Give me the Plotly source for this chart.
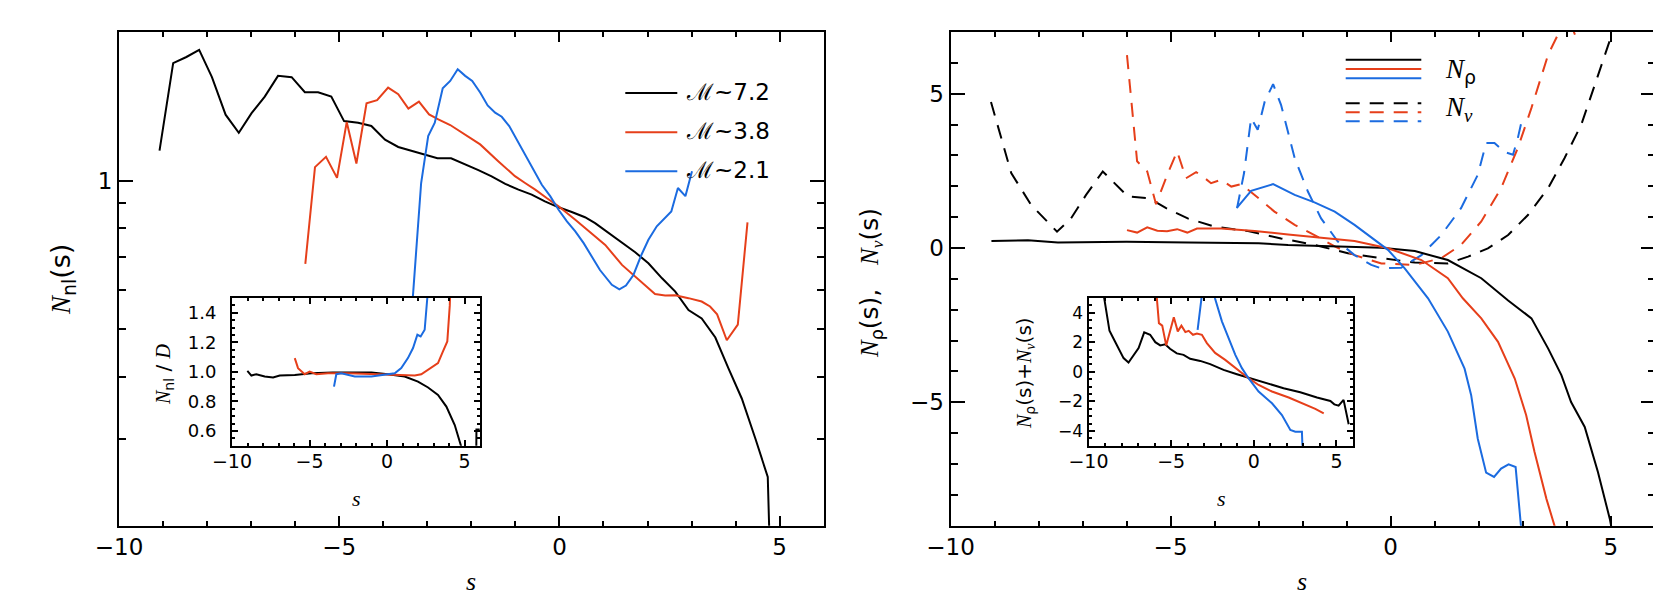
import math
import plotly.graph_objects as go

W, H = 1661, 593

# ---------------- left panel: N_nl(s) ----------------
s_nl_72 = [-9.08, -8.77, -8.47, -8.18, -7.89, -7.58, -7.28, -6.99, -6.69, -6.39, -6.08, -5.78, -5.48,
           -5.18, -4.89, -4.57, -4.27, -3.96, -3.66, -3.36, -3.05, -2.77, -2.46, -2.14, -1.84, -1.54,
           -1.23, -0.93, -0.63, -0.33, -0.02, 0.28, 0.58, 0.81, 1.11, 1.42, 1.72, 2.02, 2.33, 2.63,
           2.93, 3.23, 3.54, 3.84, 4.14, 4.45, 4.73, 4.80]
nl_72 = [1.15, 1.73, 1.78, 1.84, 1.62, 1.36, 1.25, 1.37, 1.48, 1.63, 1.62, 1.51, 1.51,
         1.48, 1.32, 1.31, 1.29, 1.21, 1.17, 1.15, 1.13, 1.11, 1.11, 1.08, 1.05, 1.02,
         0.985, 0.959, 0.937, 0.908, 0.883, 0.864, 0.843, 0.820, 0.783, 0.747, 0.716, 0.680, 0.634, 0.596,
         0.547, 0.526, 0.481, 0.416, 0.362, 0.300, 0.251, 0.15]

s_nl_38 = [-5.77, -5.55, -5.30, -5.05, -4.83, -4.61, -4.38, -4.14, -3.89, -3.66, -3.43, -3.19, -2.96,
           -2.75, -2.48, -2.14, -1.80, -1.39, -1.01, -0.78, -0.55, -0.29, -0.02, 0.36, 0.73, 1.04,
           1.42, 1.80, 2.17, 2.40, 2.63, 2.93, 3.23, 3.42, 3.58, 3.80, 4.05, 4.27]
nl_38 = [0.678, 1.065, 1.117, 1.013, 1.314, 1.083, 1.434, 1.455, 1.543, 1.496, 1.399, 1.445, 1.362,
         1.330, 1.296, 1.237, 1.184, 1.095, 1.021, 0.989, 0.959, 0.922, 0.887, 0.833, 0.783, 0.741,
         0.675, 0.629, 0.589, 0.585, 0.586, 0.578, 0.569, 0.556, 0.536, 0.475, 0.511, 0.823]

s_nl_21 = [-3.40, -3.33, -3.14, -2.98, -2.83, -2.65, -2.48, -2.31, -2.14, -1.98, -1.80, -1.63, -1.46,
           -1.31, -1.14, -0.97, -0.78, -0.59, -0.40, -0.21, -0.02, 0.17, 0.36, 0.55, 0.73, 0.92,
           1.19, 1.36, 1.51, 1.68, 1.86, 2.02, 2.21, 2.39, 2.54, 2.69, 2.86, 3.01]
nl_21 = [0.40, 0.578, 0.989, 1.231, 1.310, 1.538, 1.592, 1.681, 1.630, 1.592, 1.508, 1.420, 1.373,
         1.347, 1.290, 1.211, 1.129, 1.053, 0.981, 0.930, 0.873, 0.827, 0.789, 0.747, 0.702, 0.659,
         0.615, 0.602, 0.613, 0.644, 0.707, 0.759, 0.808, 0.840, 0.866, 0.966, 0.930, 1.045]

# inset: N_nl / D
s_r_72 = [-9.01, -8.75, -8.43, -7.89, -7.35, -6.92, -5.95, -4.88, -3.5, -2.0, -1.0, 0.06, 1.14, 2.0,
          2.65, 3.29, 3.83, 4.37, 4.80, 5.2, 5.76, 5.77, 5.98]
r_72 = [1.006, 0.975, 0.984, 0.968, 0.962, 0.975, 0.979, 0.991, 0.995, 0.997, 0.995, 0.984, 0.968, 0.934,
        0.894, 0.844, 0.765, 0.640, 0.504, 0.35, 0.45, 0.61, 0.61]
s_r_38 = [-5.95, -5.74, -5.31, -4.99, -4.56, -3.81, -2.5, -1.0, 0.5, 1.79, 2.21, 2.65, 3.29, 3.61,
          3.89, 4.05, 4.15]
r_38 = [1.093, 1.025, 0.984, 1.002, 0.984, 0.991, 0.99, 0.985, 0.982, 0.975, 0.984, 1.013, 1.059, 1.138,
        1.206, 1.45, 1.8]
s_r_21 = [-3.42, -3.27, -2.95, -2.08, -1.01, -0.15, 0.50, 0.92, 1.35, 1.68, 1.96, 2.17, 2.43, 2.60, 2.70]
r_21 = [0.900, 0.984, 0.991, 0.968, 0.968, 0.979, 0.991, 1.025, 1.093, 1.161, 1.251, 1.24, 1.285, 1.5, 1.7]

# ---------------- right panel: N_rho(s), N_nu(s) ----------------
s_rho_72 = [-9.07, -8.24, -7.56, -6.0, -4.6, -3.0, -2.33, -1.2, -0.21, 0.55, 1.30, 2.06, 2.67, 3.20,
            3.58, 3.88, 4.10, 4.41, 4.71, 4.98, 5.05]
rho_72 = [0.23, 0.25, 0.18, 0.20, 0.18, 0.15, 0.10, 0.05, 0.01, -0.10, -0.39, -0.98, -1.70, -2.28,
          -3.26, -4.12, -4.99, -5.80, -7.26, -8.78, -9.3]
s_rho_38 = [-5.99, -5.76, -5.53, -5.30, -5.08, -4.85, -4.62, -4.40, -3.85, -3.09, -2.33, -1.58, -0.82,
            -0.06, 0.70, 1.30, 1.64, 2.06, 2.44, 2.82, 3.08, 3.27, 3.54, 3.73, 3.78]
rho_38 = [0.58, 0.50, 0.67, 0.56, 0.54, 0.61, 0.50, 0.63, 0.63, 0.55, 0.44, 0.34, 0.23,
          -0.01, -0.39, -0.98, -1.63, -2.28, -3.04, -4.23, -5.42, -6.61, -8.13, -9.03, -9.3]
s_rho_21 = [-3.49, -3.17, -2.67, -2.18, -1.73, -1.27, -0.82, -0.36, -0.06, 0.32, 0.85, 1.30, 1.68,
            1.83, 1.98, 2.17, 2.35, 2.51, 2.68, 2.84, 2.95, 2.98]
rho_21 = [1.31, 1.85, 2.07, 1.72, 1.48, 1.18, 0.75, 0.26, -0.06, -0.66, -1.63, -2.71, -3.91,
          -4.77, -6.18, -7.28, -7.42, -7.15, -7.01, -7.10, -9.03, -9.3]

s_nu_72 = [-9.08, -8.62, -8.17, -7.58, -7.26, -6.92, -6.54, -6.27, -5.97, -5.48, -5.10, -4.61, -4.00,
           -3.24, -2.49, -1.73, -0.97, -0.21, 0.55, 1.30, 1.76, 2.21, 2.67, 3.12, 3.58, 3.95, 4.33,
           4.64, 5.00, 5.05]
nu_72 = [4.73, 2.43, 1.40, 0.53, 0.96, 1.72, 2.48, 2.10, 1.67, 1.61, 1.29, 0.96, 0.69,
         0.55, 0.31, 0.10, -0.17, -0.33, -0.47, -0.50, -0.28, -0.01, 0.42, 1.07, 1.94, 2.91, 3.99,
         5.29, 6.81, 7.2]
s_nu_38 = [-5.99, -5.76, -5.53, -5.38, -5.33, -5.25, -5.06, -4.85, -4.65, -4.42, -4.27, -4.08, -3.85,
           -3.62, -3.40, -3.09, -2.64, -2.18, -1.73, -1.27, -0.82, -0.21, 0.55, 1.15, 1.60, 2.06,
           2.51, 2.89, 3.20, 3.58, 3.84, 4.0, 4.26]
nu_38 = [6.25, 2.81, 2.48, 1.67, 1.42, 1.72, 2.43, 3.13, 2.26, 2.46, 2.32, 2.10, 2.21,
         1.99, 2.07, 1.72, 1.18, 0.75, 0.42, 0.05, -0.23, -0.50, -0.55, -0.33, 0.10, 0.86,
         1.94, 3.24, 4.54, 6.27, 7.03, 7.6, 6.65]
s_nu_21 = [-3.49, -3.33, -3.17, -3.02, -2.86, -2.67, -2.49, -2.18, -1.88, -1.58, -1.20, -0.82, -0.44,
           -0.21, 0.24, 0.70, 1.15, 1.60, 1.98, 2.17, 2.36, 2.59, 2.78, 2.89, 3.01]
nu_21 = [1.29, 2.43, 4.21, 3.83, 4.75, 5.31, 4.64, 2.91, 1.83, 0.96, 0.21, -0.23, -0.55,
         -0.66, -0.64, -0.23, 0.42, 1.29, 2.37, 3.40, 3.40, 3.11, 3.02, 3.56, 4.32]

# inset: N_rho + N_nu
s_sum_72 = [-9.08, -8.73, -8.49, -7.88, -7.58, -6.97, -6.63, -6.27, -5.96, -5.66, -5.36, -5.07, -4.66,
            -4.25, -3.85, -3.24, -2.64, -1.83, -1.02, -0.21, 0.59, 1.80, 2.81, 3.82, 4.63, 4.87, 5.13,
            5.43, 5.74]
sum_72 = [5.2, 2.78, 2.26, 0.93, 0.63, 1.61, 2.67, 2.51, 2.01, 1.79, 1.86, 1.56, 1.25,
          1.15, 0.88, 0.74, 0.52, 0.13, -0.16, -0.43, -0.70, -1.11, -1.38, -1.74, -1.97, -2.20, -2.29,
          -1.90, -3.55]
s_sum_38 = [-6.0, -5.74, -5.54, -5.30, -4.84, -4.60, -4.38, -4.14, -3.94, -3.68, -3.44, -3.14, -2.84,
            -2.34, -1.73, -1.12, -0.32, 0.29, 1.10, 2.11, 3.32, 3.72, 4.23]
sum_38 = [6.8, 3.30, 3.13, 1.79, 3.69, 2.74, 3.13, 2.69, 2.78, 2.51, 2.60, 2.51, 1.95,
          1.28, 0.81, 0.25, -0.43, -0.89, -1.33, -1.74, -2.29, -2.51, -2.81]
s_sum_21 = [-3.40, -3.0, -2.67, -2.34, -1.93, -1.53, -1.12, -0.72, -0.32, 0.29, 1.10, 1.70, 2.21,
            2.51, 2.91, 2.95]
sum_21 = [2.85, 6.5, 7.4, 4.95, 3.42, 2.28, 1.15, 0.25, -0.43, -1.33, -2.13, -2.92, -3.94,
          -4.05, -4.05, -5.3]

mach_values = ["7.2", "3.8", "2.1"]

RED = "#e63f1a"
BLUE = "#1b6be0"
COLORS = ["black", RED, BLUE]
FONT = "DejaVu Sans"
SERIF = "Liberation Serif"
DASH = "14px,10px"


def fx(p):
    return p / W


def fy(p):
    return 1 - p / H


fig = go.Figure()


def add(x, y, color, xa, ya, dash=None):
    fig.add_trace(go.Scatter(x=x, y=y, mode="lines", xaxis=xa, yaxis=ya,
                             line=dict(color=color, width=2, dash=dash),
                             showlegend=False, hoverinfo="skip"))


# main panels
for xs, ys, c in zip([s_nl_72, s_nl_38, s_nl_21], [nl_72, nl_38, nl_21], COLORS):
    add(xs, ys, c, "x", "y")
for xs, ys, c in zip([s_nu_72, s_nu_38, s_nu_21], [nu_72, nu_38, nu_21], COLORS):
    add(xs, ys, c, "x2", "y2", DASH)
for xs, ys, c in zip([s_rho_72, s_rho_38, s_rho_21], [rho_72, rho_38, rho_21], COLORS):
    add(xs, ys, c, "x2", "y2")
# insets
for xs, ys, c in zip([s_r_72, s_r_38, s_r_21], [r_72, r_38, r_21], COLORS):
    add(xs, ys, c, "x3", "y3")
for xs, ys, c in zip([s_sum_72, s_sum_38, s_sum_21], [sum_72, sum_38, sum_21], COLORS):
    add(xs, ys, c, "x4", "y4")


def axis(domain, anchor, rng, ticklen, minorlen, size, standoff, minor_dtick=None, **kw):
    minor = dict(ticks="inside", ticklen=minorlen, tickwidth=1.5, tickcolor="black", showgrid=False)
    if minor_dtick is not None:
        minor["dtick"] = minor_dtick
    if "minor_vals" in kw:
        minor["tickmode"] = "array"
        minor["tickvals"] = kw.pop("minor_vals")
    d = dict(domain=domain, anchor=anchor, range=rng, showline=True, linecolor="black",
             linewidth=2, mirror="ticks", ticks="inside", ticklen=ticklen, tickwidth=2,
             tickcolor="black", showgrid=False, zeroline=False, automargin=False,
             tickfont=dict(family=FONT, size=size, color="black"),
             ticklabelstandoff=standoff, minor=minor)
    d.update(kw)
    return d


main_y = [fy(517.7), fy(24)]
inset_y = [fy(437.7), fy(290)]

fig.update_layout(
    template="none",
    width=W, height=H,
    margin=dict(l=0, r=0, t=0, b=0, pad=0),
    paper_bgcolor="white", plot_bgcolor="white",
    font=dict(family=FONT, color="black"),
    xaxis=axis([fx(111), fx(815.7)], "y", [-10, 6], 10, 5, 23, 0, 1, dtick=5, tick0=0),
    yaxis=axis(main_y, "x", [math.log10(0.2), math.log10(2.0)], 14, 7, 23, 0,
               type="log", tickmode="array", tickvals=[1], ticktext=["1"],
               minor_vals=[0.3, 0.4, 0.5, 0.6, 0.7, 0.8, 0.9]),
    xaxis2=axis([fx(942.5), fx(1646.7)], "y2", [-10, 6], 10, 5, 23, 0, 1, dtick=5, tick0=0),
    yaxis2=axis(main_y, "x2", [-9, 7], 14, 7, 23, 0, 1, dtick=5, tick0=0),
    xaxis3=axis([fx(224), fx(472)], "y3", [-10, 6], 6, 3, 19, -3, 1, dtick=5, tick0=0),
    yaxis3=axis(inset_y, "x3", [0.5, 1.5], 6, 3, 18, 10, 0.05, dtick=0.2, tick0=0,
                tickformat=".1f"),
    xaxis4=axis([fx(1080.5), fx(1345)], "y4", [-10, 6], 6, 3, 19, -3, 1, dtick=5, tick0=0),
    yaxis4=axis(inset_y, "x4", [-5, 5], 6, 3, 17, 0, 0.5, dtick=2, tick0=0),
)

ann = []


def text(x, y, t, size, angle=0, xanchor="center", yanchor="middle"):
    ann.append(dict(x=fx(x), y=fy(y), xref="paper", yref="paper", text=t, showarrow=False,
                    textangle=angle, xanchor=xanchor, yanchor=yanchor,
                    font=dict(family=FONT, size=size, color="black")))


def it(t):
    return "<i><span style='font-family:%s'>%s</span></i>" % (SERIF, t)


NB = "\u00a0"
# axis titles
text(463, 573, it("s"), 26)
text(1294, 573, it("s"), 26)
text(55, 272, it("N") + "<sub>nl</sub>(s)", 27, angle=-90)
text(863, 275, it("N") + "<sub>\u03c1</sub>(s)," + NB * 3 + it("N") + "<sub>" + it("\u03bd") + "</sub>(s)",
     25, angle=-90)
text(348, 490, it("s"), 22)
text(1213, 490, it("s"), 22)
text(156, 366, it("N") + "<sub>nl</sub>" + NB + "/" + NB + it("D"), 20, angle=-90)
text(1017, 365, it("N") + "<sub>\u03c1</sub>(s)+" + it("N") + "<sub>" + it("\u03bd") + "</sub>(s)",
     20, angle=-90)

# legend, left panel
shapes = []
for yy, c, v in zip([85, 124.3, 163.3], COLORS, mach_values):
    shapes.append(dict(type="line", xref="paper", yref="paper", x0=fx(617.3), x1=fx(669.3),
                       y0=fy(yy), y1=fy(yy), line=dict(color=c, width=2)))
    lab = "<span style='font-family:Liberation Sans'>\u2133</span>~" + v
    text(676, yy - 1, lab, 23, xanchor="left")

# legend, right panel
for yy, c in zip([51.7, 61, 70.3], COLORS):
    shapes.append(dict(type="line", xref="paper", yref="paper", x0=fx(1337.7), x1=fx(1413.3),
                       y0=fy(yy), y1=fy(yy), line=dict(color=c, width=2)))
for yy, c in zip([95.3, 104.3, 113.3], COLORS):
    shapes.append(dict(type="line", xref="paper", yref="paper", x0=fx(1337.7), x1=fx(1413.3),
                       y0=fy(yy), y1=fy(yy), line=dict(color=c, width=2, dash=DASH)))
text(1435, 63, it("N") + "<sub>\u03c1</sub>", 27, xanchor="left")
text(1435, 101, it("N") + "<sub>" + it("\u03bd") + "</sub>", 27, xanchor="left")

fig.update_layout(annotations=ann, shapes=shapes)

fig.write_html("out.html")
